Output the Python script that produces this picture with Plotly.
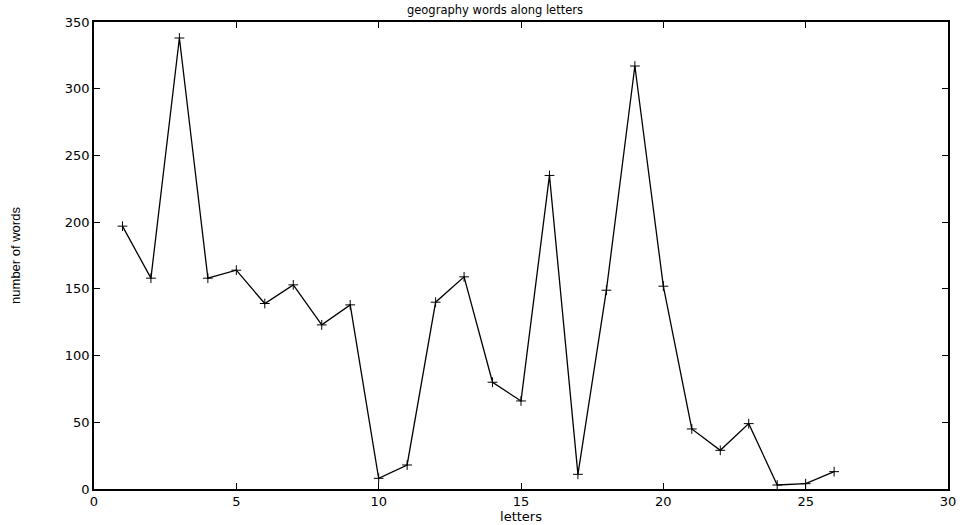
import plotly.graph_objects as go

letters = list(range(1, 27))
words = [197, 158, 338, 158, 164, 139, 153, 123, 138, 8, 18, 140, 159, 80, 66,
         235, 11, 149, 317, 152, 45, 29, 49, 3, 4, 13]
x_ticks = [0, 5, 10, 15, 20, 25, 30]
y_ticks = [0, 50, 100, 150, 200, 250, 300, 350]

fig = go.Figure(go.Scatter(
    x=letters, y=words, mode="lines+markers",
    line=dict(color="black", width=1.3),
    marker=dict(symbol="cross-thin", size=7, line=dict(color="black", width=1)),
))

font = "DejaVu Sans, Verdana, sans-serif"
axis_common = dict(
    showgrid=False, zeroline=False, showline=True, linecolor="black", linewidth=1.5,
    mirror="ticks", ticks="inside", ticklen=6, tickcolor="black", tickwidth=1,
    tickfont=dict(family=font, size=13, color="black"), automargin=False,
)
fig.update_layout(
    width=963, height=525,
    margin=dict(l=94, r=15, t=22, b=36),
    paper_bgcolor="white", plot_bgcolor="white",
    showlegend=False,
    title=dict(text="geography words along letters", x=0.514, xanchor="center",
               y=0.981, yanchor="middle", font=dict(family=font, size=11.5, color="black")),
    xaxis=dict(range=[0, 30], tickvals=x_ticks,
               title=dict(text="letters", standoff=0, font=dict(family=font, size=13, color="black")),
               **axis_common),
    yaxis=dict(range=[0, 350], tickvals=y_ticks,
               title=dict(text="number of words", standoff=41,
                          font=dict(family="Liberation Sans Narrow, Liberation Sans, sans-serif", size=13, color="black")),
               **axis_common),
)
fig.write_html("out.html", config={"displayModeBar": False},
               post_script="document.body.style.margin='0';")
